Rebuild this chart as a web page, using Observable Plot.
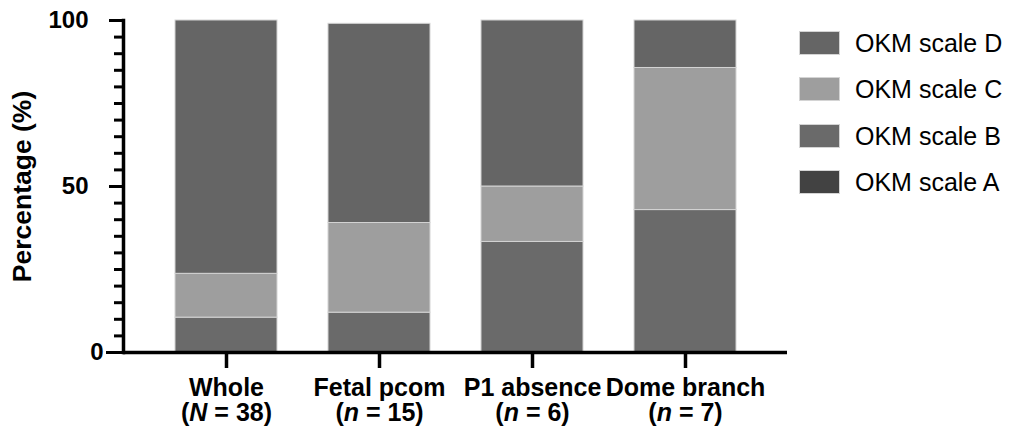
<!DOCTYPE html>
<html><head><meta charset="utf-8">
<script src="https://cdn.jsdelivr.net/npm/d3@7"></script>
<script src="https://cdn.jsdelivr.net/npm/@observablehq/plot@0.6"></script>
<style>
body{margin:0;background:#fff;}
#wrap{position:relative;width:1016px;height:431px;font-family:"Liberation Sans",Arial,Helvetica,sans-serif;}
#legend{position:absolute;left:799px;top:31px;}
.row{display:flex;align-items:center;height:24px;margin-bottom:22.3px;}
.sw{width:41px;height:24px;box-sizing:border-box;border:1px solid #d4d4d4;margin-right:15px;}
.lab{font-size:25px;color:#000;line-height:24px;white-space:nowrap;}
</style></head><body><div id="wrap"><div id="legend"></div></div>
<script>
const categories = ["Whole", "Fetal pcom", "P1 absence", "Dome branch"];
const sampleLetters = ["N", "n", "n", "n"];
const sampleSizes = [38, 15, 6, 7];
const series = ["OKM scale A", "OKM scale B", "OKM scale C", "OKM scale D"];
const scaleA = [0, 0, 0, 0];
const scaleB = [10.5, 12, 33.3, 42.9];
const scaleC = [13.2, 27, 16.7, 42.8];
const scaleD = [76.3, 60, 50, 14.3];
const colors = ["#424242", "#6a6a6a", "#9e9e9e", "#656565"];
const yMinorTicks = d3.range(0, 101, 5);
const yMajorTicks = [50, 100];

const values = [scaleA, scaleB, scaleC, scaleD];
const table = [];
categories.forEach((c, i) => series.forEach((s, j) => table.push({category: c, series: s, value: values[j][i]})));

const font = "'Liberation Sans', Arial, Helvetica, sans-serif";
const plot = Plot.plot({
  width: 1016, height: 431,
  marginLeft: 123, marginRight: 229, marginTop: 20, marginBottom: 79,
  style: {fontFamily: font, background: "white", color: "black"},
  x: {domain: categories, padding: 1/3, label: null},
  y: {domain: [0, 100], label: null},
  color: {domain: series, range: colors},
  marks: [
    Plot.barY(table, {x: "category", y: "value", fill: "series", stroke: "#d4d4d4", strokeWidth: 1, order: series}),
    Plot.ruleY([0], {strokeWidth: 3.5}),
    Plot.frame({anchor: "left", strokeWidth: 3.5}),
    Plot.axisY(yMinorTicks, {tickSize: 9, strokeWidth: 3, tickFormat: () => "", label: null}),
    Plot.axisY(yMajorTicks, {tickSize: 14, tickPadding: 21, strokeWidth: 3, fontSize: 24, fontWeight: "bold",
      label: "Percentage (%)", labelAnchor: "center", labelArrow: "none", labelOffset: 111}),
    Plot.axisY([0], {tickSize: 17, tickPadding: 3, strokeWidth: 3, fontSize: 24, fontWeight: "bold", label: null}),
    Plot.axisX({tickSize: 16, tickPadding: 10, strokeWidth: 3.5, fontSize: 25, fontWeight: "bold", label: null,
      tickFormat: d => { const i = categories.indexOf(d); return `${d}\n(${sampleLetters[i]} = ${sampleSizes[i]})`; }})
  ]
});

// larger y-axis title
d3.select(plot).selectAll('g[aria-label^="y-axis label"] text').attr("font-size", 26.5);

// italicize the sample-size letter
d3.select(plot).selectAll('g[aria-label^="x-axis tick label"] text').each(function () {
  const tspans = this.querySelectorAll("tspan");
  if (tspans.length < 2) return;
  const t = tspans[1];
  const m = t.textContent.match(/^\((\w+)(.*)$/);
  if (!m) return;
  t.textContent = "(";
  const it = document.createElementNS("http://www.w3.org/2000/svg", "tspan");
  it.setAttribute("font-style", "italic");
  it.textContent = m[1];
  t.appendChild(it);
  t.appendChild(document.createTextNode(m[2]));
});

const wrap = document.getElementById("wrap");
wrap.insertBefore(plot, wrap.firstChild);

const legend = document.getElementById("legend");
for (let j = series.length - 1; j >= 0; j--) {
  const row = document.createElement("div"); row.className = "row";
  const sw = document.createElement("div"); sw.className = "sw"; sw.style.background = colors[j];
  const lab = document.createElement("div"); lab.className = "lab"; lab.textContent = series[j];
  row.appendChild(sw); row.appendChild(lab); legend.appendChild(row);
}
</script></body></html>
